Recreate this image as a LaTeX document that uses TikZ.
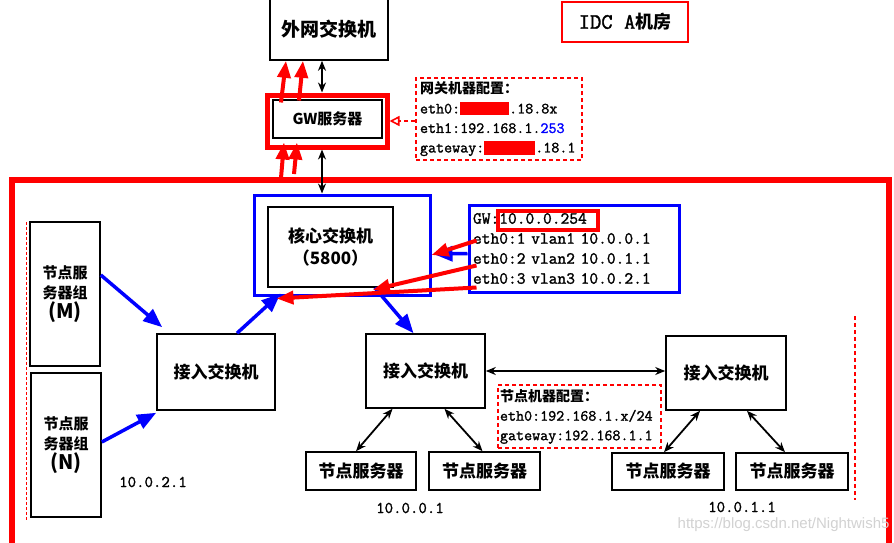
\documentclass[tikz,border=0pt]{standalone}
\usepackage{fontspec}
\setmainfont{Liberation Serif}
\setsansfont{Liberation Sans}
\setmonofont{Latin Modern Mono}[FakeBold=1.5]
\newfontfamily\cjk{Noto Sans CJK SC}
\usetikzlibrary{arrows.meta,positioning}

\tikzset{
  box/.style={draw=black, line width=1.6pt, fill=white,
    font=\cjk\bfseries\fontsize{17}{20}\selectfont},
  bluebox/.style={draw=blue, line width=3pt},
  cfgbox/.style={draw=red, dashed, line width=1.6pt, dash pattern=on 4pt off 3pt,
    align=left, font=\ttfamily\fontsize{15.6}{19.5}\selectfont},
  bidir/.style={line width=1.8pt, {Stealth[length=10pt,width=8pt]}-{Stealth[length=10pt,width=8pt]}},
  redarr/.style={red, line width=4pt, -{Triangle[length=17pt,width=13pt]}},
  bluearr/.style={blue, line width=3.5pt, -{Triangle[length=19pt,width=15pt]}},
  iplabel/.style={font=\ttfamily\fontsize{16.4}{18}\selectfont},
}

\begin{document}
\begin{tikzpicture}[x=1pt,y=-1pt]
  \clip (0,0) rectangle (894,543);
  \fill[white] (0,0) rectangle (894,543);

  % room frame
  \draw[red, line width=6pt] (12,560) -- (12,180) -- (889,180) -- (889,560);
  \draw[red, dash pattern=on 3pt off 2pt, line width=1pt] (26,222) -- (26,520);
  \draw[red, dash pattern=on 4pt off 3pt, line width=1.4pt] (855,316) -- (855,500);

  % top part
  \node[box, minimum width=118pt, minimum height=62pt,
    font=\cjk\bfseries\fontsize{19}{22}\selectfont] (wan) at (329,29) {外网交换机};
  \node[draw=red, line width=5pt, minimum width=120pt, minimum height=52pt] (gw) at (327,121) {};
  \node[box, minimum width=109pt, minimum height=38pt,
    font=\cjk\bfseries\fontsize{15}{18}\selectfont] (gwin) at (327.5,119) {GW服务器};
  \node[draw=red, line width=1.6pt, minimum width=126pt, minimum height=40pt,
    font=\ttfamily\fontsize{22}{24}\selectfont] (idc) at (625,22) {IDC A{\cjk\bfseries\fontsize{18}{20}\selectfont 机房}};

  \node[cfgbox, text width=158pt, inner sep=4pt, minimum height=82pt] (gwcfg) at (499,119)
    {{\cjk\bfseries\fontsize{14}{19}\selectfont 网关机器配置：}\\
     eth0:{\color{red}\rule[-2pt]{49pt}{13pt}}.18.8x\\
     eth1:192.168.1.{\color{blue}253}\\
     gateway:{\color{red}\rule[-3pt]{51pt}{14pt}}.18.1};

  % core
  \node[bluebox, minimum width=176pt, minimum height=100pt] (corebox) at (342,245) {};
  \node[box, minimum width=125pt, minimum height=80pt, align=center] (core) at (330.5,247)
    {核心交换机\\[2pt]（5800）};

  \node[bluebox, text width=202pt, inner sep=4pt, minimum height=87pt, align=left,
    font=\ttfamily\fontsize{17}{20}\selectfont] (vlanbox) at (574,248.5)
    {GW:10.0.0.254\\eth0:1 vlan1 10.0.0.1\\eth0:2 vlan2 10.0.1.1\\eth0:3 vlan3 10.0.2.1};
  \draw[red, line width=3.5pt] (498,211) rectangle (598,230);

  % server groups
  \node[box, minimum width=70pt, minimum height=144pt, align=center,
    font=\cjk\bfseries\fontsize{15}{20}\selectfont] (grpM) at (65,294)
    {节点服\\务器组\\{\fontsize{20}{24}\selectfont (M)}};
  \node[box, minimum width=70pt, minimum height=144pt, align=center,
    font=\cjk\bfseries\fontsize{15}{20}\selectfont] (grpN) at (66,445)
    {节点服\\务器组\\{\fontsize{20}{24}\selectfont (N)}};

  % access switches
  \node[box, minimum width=118pt, minimum height=76pt] (acc1) at (216,372) {接入交换机};
  \node[box, minimum width=119pt, minimum height=74pt] (acc2) at (425.5,371) {接入交换机};
  \node[box, minimum width=120pt, minimum height=74pt] (acc3) at (726,373) {接入交换机};

  \node[cfgbox, text width=159pt, inner sep=2pt, minimum height=63pt] (nodecfg) at (579.5,416.5)
    {{\cjk\bfseries\fontsize{14}{19}\selectfont 节点机器配置：}\\
     eth0:192.168.1.x/24\\
     gateway:192.168.1.1};

  % node servers
  \node[box, minimum width=110pt, minimum height=38pt] (srv1) at (361,471) {节点服务器};
  \node[box, minimum width=111pt, minimum height=38pt] (srv2) at (484.5,471) {节点服务器};
  \node[box, minimum width=112pt, minimum height=37pt] (srv3) at (668,471.5) {节点服务器};
  \node[box, minimum width=112pt, minimum height=37pt] (srv4) at (792,471.5) {节点服务器};

  \node[iplabel] (ip1) at (153,482) {10.0.2.1};
  \node[iplabel] (ip2) at (410,508) {10.0.0.1};
  \node[iplabel] (ip3) at (742,507) {10.0.1.1};

  % black links
  \draw[bidir] ([xshift=-7pt]wan.south) -- ([xshift=-5pt]gw.north);
  \draw[bidir] ([xshift=-5pt]gw.south) -- ([xshift=-20pt]corebox.north);
  \draw[bidir] (acc2.east) -- (acc3.west |- acc2.east);
  \draw[bidir] ([xshift=-33pt]acc2.south) -- ([xshift=-5pt]srv1.north);
  \draw[bidir] ([xshift=19pt]acc2.south) -- ([xshift=-2pt]srv2.north);
  \draw[bidir] ([xshift=-26pt]acc3.south) -- ([xshift=-4pt]srv3.north);
  \draw[bidir] ([xshift=21pt]acc3.south) -- ([xshift=-7pt]srv4.north);

  % gw config pointer
  \draw[red, dashed, line width=1.6pt, dash pattern=on 4pt off 3pt,
    -{Triangle[open,length=10pt,width=10pt,line width=1.6pt]}] (gw.east -| gwcfg.west) -- (gw.east);

  % red traffic
  \coordinate (f1) at (281,178);
  \coordinate (f2) at (294,174);
  \draw[redarr] ([xshift=-46pt,yshift=-10pt]gw.north) -- ([xshift=-43pt]wan.south);
  \draw[redarr] ([xshift=-28pt,yshift=-8pt]gw.north) -- ([xshift=-26pt]wan.south);
  \draw[redarr] (f1) -- ([xshift=-43pt,yshift=7pt]gw.south);
  \draw[redarr] (f2) -- ([xshift=-30pt,yshift=7pt]gw.south);

  % blue links
  \draw[bluearr] ([yshift=-5pt]vlanbox.west) -- ([xshift=2pt,yshift=-9pt]corebox.east);
  \draw[bluearr] ([yshift=19pt]grpM.east) -- ([xshift=6pt,yshift=6pt]acc1.north west);
  \draw[bluearr] ([yshift=3pt]grpN.east) -- ([yshift=-2pt]acc1.south west);
  \draw[bluearr] ([xshift=21pt]acc1.north) -- ([xshift=28pt,yshift=3pt]corebox.south west);
  \draw[bluearr] ([xshift=-19pt]core.south east) -- ([xshift=-12pt]acc2.north);

  % vlan routes
  \draw[redarr] ([xshift=9pt,yshift=8pt]vlanbox.west) -- ([yshift=-10pt]corebox.east);
  \draw[redarr] ([xshift=9pt,yshift=-17pt]vlanbox.west) -- ([xshift=-21pt,yshift=-2pt]core.south east);
  \draw[redarr] ([xshift=9pt,yshift=-39pt]vlanbox.west) -- ([xshift=24pt,yshift=-2pt]corebox.south west);

  \node[text=gray!35, font=\sffamily\fontsize{15}{17}\selectfont, anchor=east] (mark) at (893,525)
    {https://blog.csdn.net/Nightwish5};
\end{tikzpicture}
\end{document}
